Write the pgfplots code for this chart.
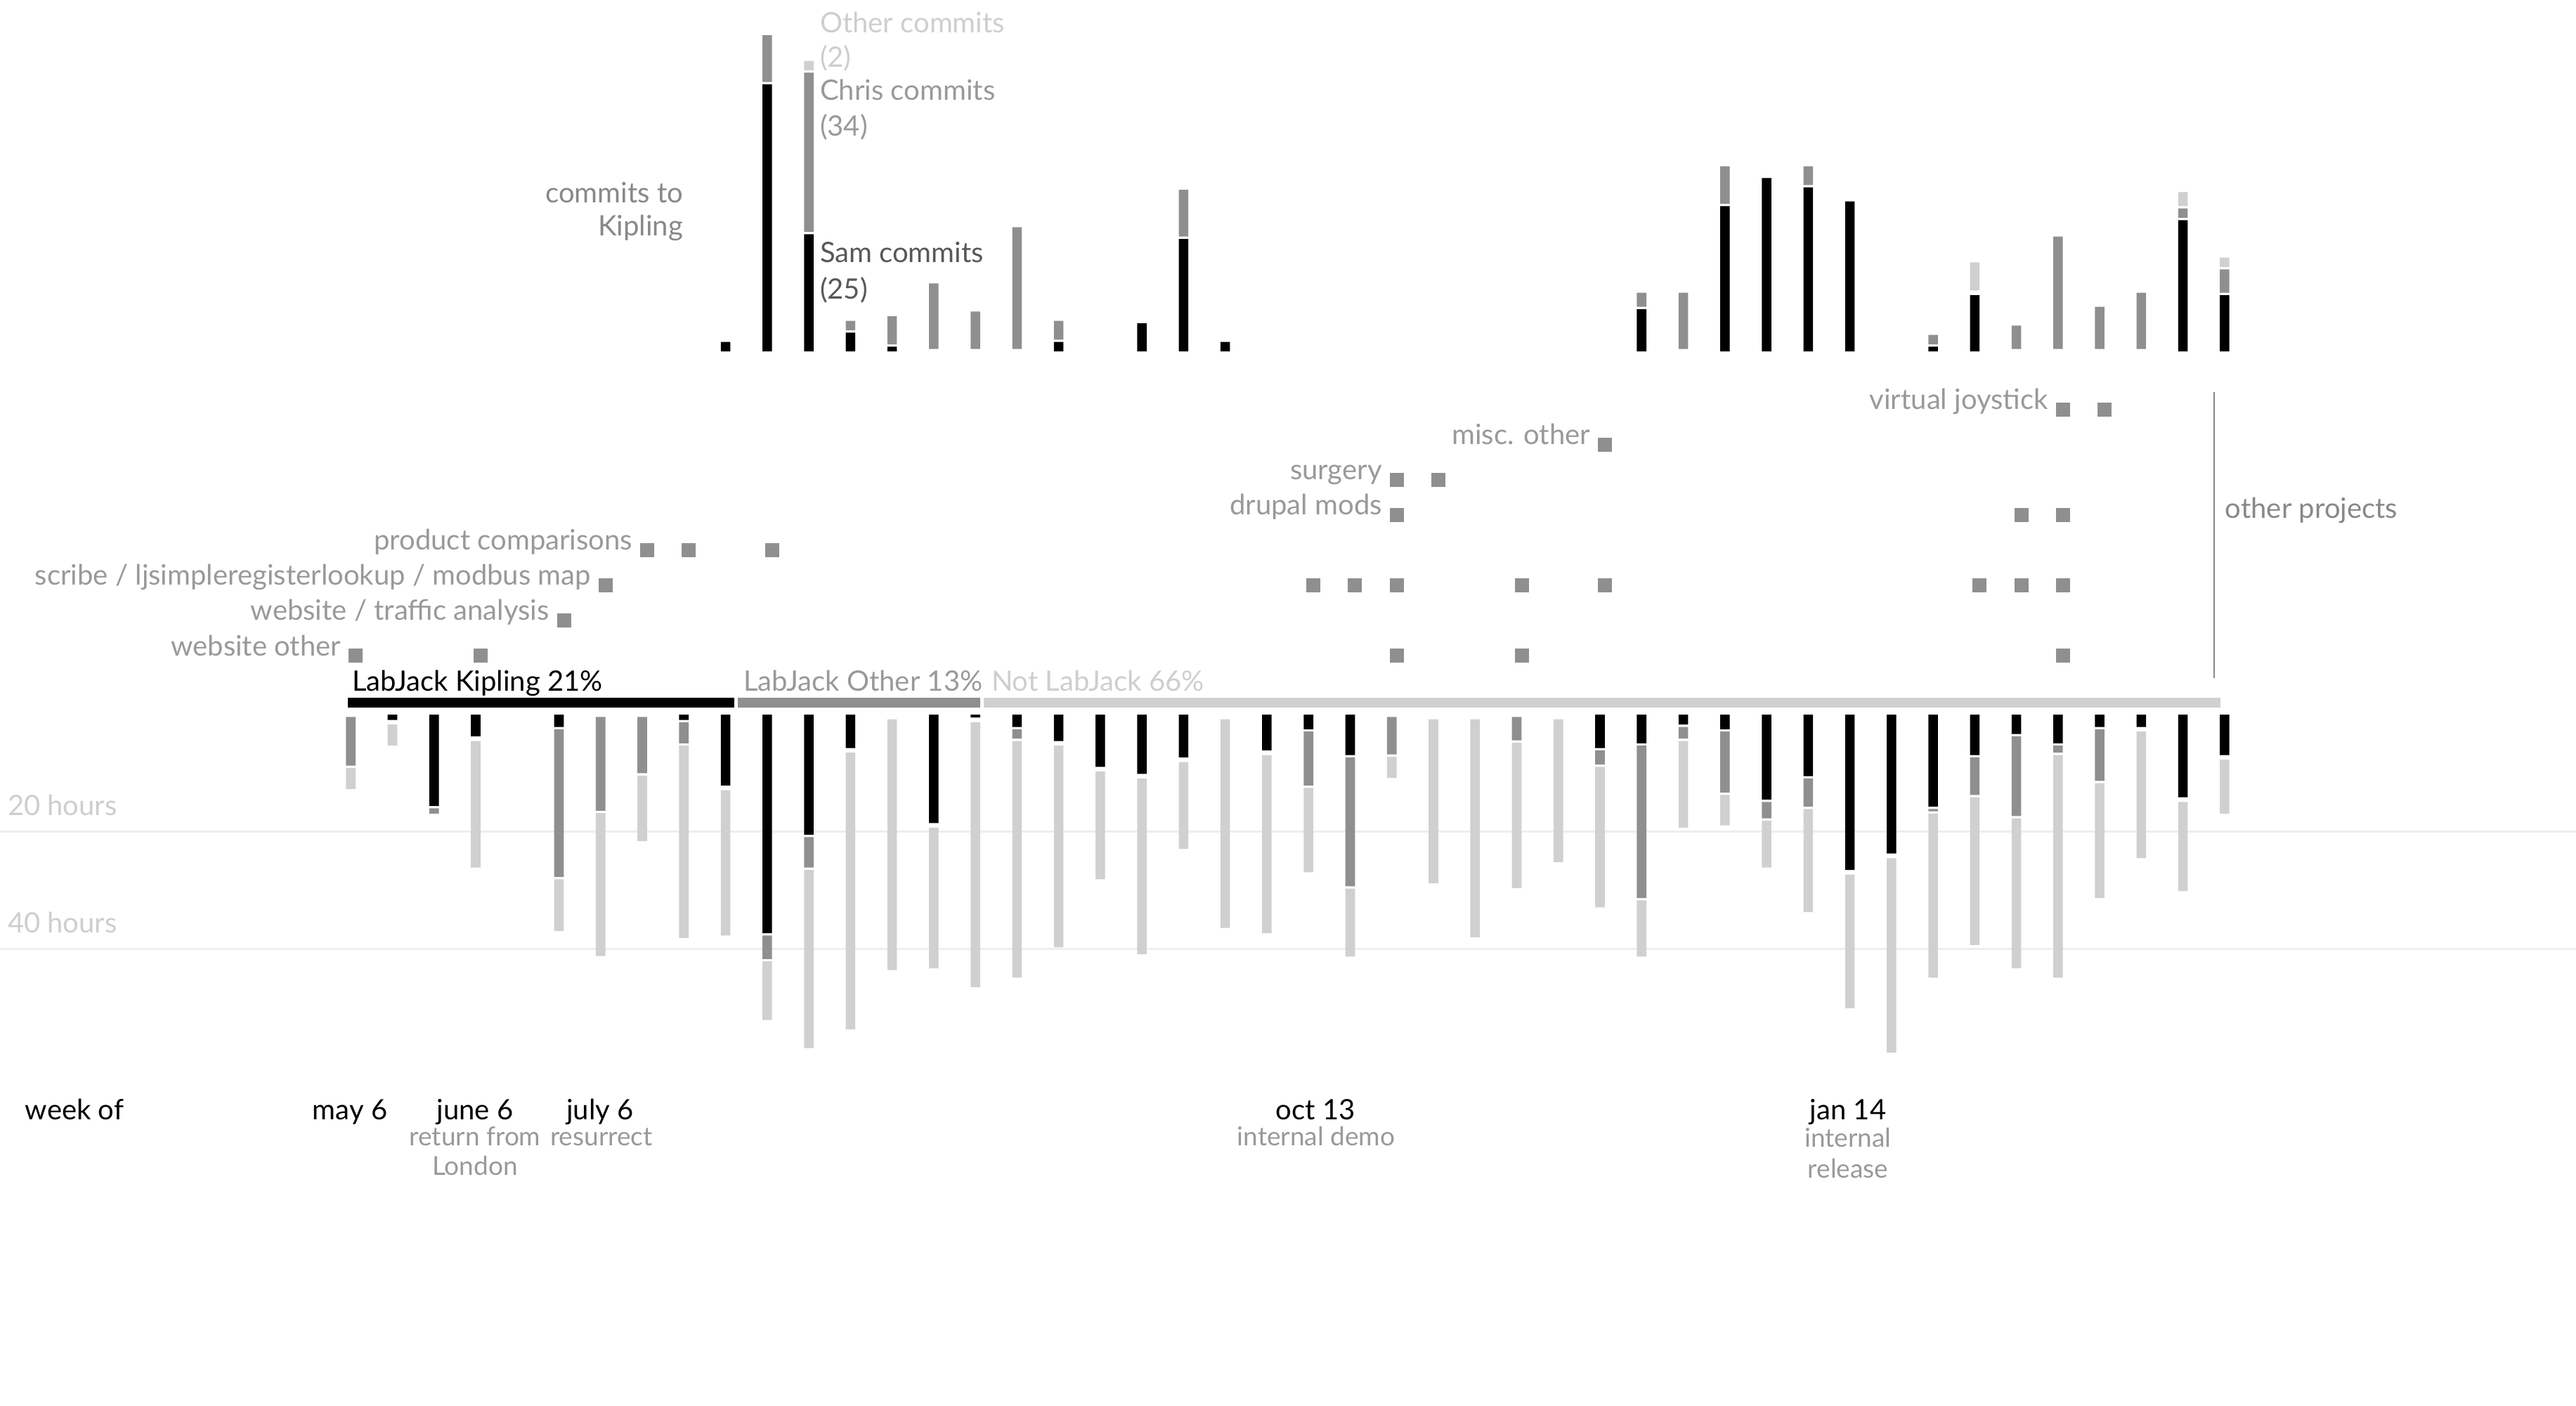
\documentclass[border=0pt]{standalone}
\usepackage{fontspec}
\setmainfont{Lato}
\usepackage{pgfplots}
\pgfplotsset{compat=1.18}
\usepackage{pgfplotstable}

\definecolor{cgray}{RGB}{143,143,143}
\definecolor{clight}{RGB}{208,208,208}
\definecolor{tdark}{RGB}{88,88,88}
\definecolor{tmid}{RGB}{153,153,153}
\definecolor{tlight}{RGB}{206,206,206}
\definecolor{tlab}{RGB}{136,136,136}
\definecolor{gridc}{RGB}{238,238,238}

% commits per week (Sam, gap, Chris, Other)
\pgfplotstableread{
w sam gap chris other
9 2 0.5 0 0
10 57 0.5 10 0
11 25 0.5 34 2
12 4 0.5 2 0
13 1 0.5 6 0
14 0 0.5 14 0
15 0 0.5 8 0
16 0 0.5 26 0
17 2 0.5 4 0
19 6 0.5 0 0
20 24 0.5 10 0
21 2 0.5 0 0
31 9 0.5 3 0
32 0 0.5 12 0
33 31 0.5 8 0
34 37 0.5 0 0
35 35 0.5 4 0
36 32 0.5 0 0
38 1 0.5 2 0
39 12 0.5 0 6
40 0 0.5 5 0
41 0 0.5 24 0
42 0 0.5 9 0
43 0 0.5 12 0
44 28 0.5 2 3
45 12 0.5 5 2
}\commits

% hours per week (Kipling, gap, LabJack other, Not LabJack), drawn downwards
\pgfplotstableread{
w k gap o n
0 0 -0.4 -8.3 -3.6
1 -0.9 -0.4 0 -3.6
2 -15.6 -0.4 -0.9 0
3 -3.7 -0.4 0 -21.6
4 0 -0.4 0 0
5 -2.1 -0.4 -25.2 -8.8
6 0 -0.4 -16 -24.4
7 0 -0.4 -9.6 -11.2
8 -0.9 -0.4 -3.6 -32.8
9 -12.1 -0.4 0 -24.8
10 -37.3 -0.4 -4 -10
11 -20.5 -0.4 -5.2 -30.4
12 -5.7 -0.4 0 -47.2
13 0 -0.4 0 -42.8
14 -18.5 -0.4 0 -24
15 -0.5 -0.4 0 -45.2
16 -2.1 -0.4 -1.6 -40.4
17 -4.5 -0.4 0 -34.4
18 -8.9 -0.4 0 -18.4
19 -10.1 -0.4 0 -30
20 -7.3 -0.4 0 -14.8
21 0 -0.4 0 -35.6
22 -6.1 -0.4 0 -30.4
23 -2.5 -0.4 -9.2 -14.4
24 -6.9 -0.4 -22 -11.6
25 0 -0.4 -6.4 -3.6
26 0 -0.4 0 -28
27 0 -0.4 0 -37.2
28 0 -0.4 -4 -24.8
29 0 -0.4 0 -24.4
30 -5.7 -0.4 -2.4 -24
31 -4.9 -0.4 -26 -9.6
32 -1.7 -0.4 -2 -14.8
33 -2.5 -0.4 -10.4 -5.2
34 -14.5 -0.4 -2.8 -8
35 -10.5 -0.4 -4.8 -17.6
36 -26.5 -0.4 0 -22.8
37 -23.7 -0.4 0 -33.2
38 -15.7 -0.4 -0.4 -28
39 -6.9 -0.4 -6.4 -25.2
40 -3.3 -0.4 -13.6 -25.6
41 -4.9 -0.4 -1.2 -38
42 -2.1 -0.4 -8.8 -19.6
43 -2.1 -0.4 0 -21.6
44 -14.1 -0.4 0 -15.2
45 -6.9 -0.4 0 -9.2
}\hours

\pgfplotsset{
  base/.style={scale only axis, width=733.2pt, xmin=-8.424, xmax=53.439,
    axis line style={draw=none}, xtick=\empty, ytick=\empty, clip=false,
    enlargelimits=false, anchor=south west},
}
\tikzset{t/.style={font=\fontsize{8pt}{9.6pt}\selectfont, inner sep=0pt},
         ts/.style={font=\fontsize{7.4pt}{8.9pt}\selectfont, inner sep=0pt}}

\begin{document}
\begin{tikzpicture}
\useasboundingbox (0pt,0pt) rectangle (733.2pt,400pt);

% ---------- commits ----------
\begin{axis}[base, at={(0pt,298pt)}, height=100pt,
  ymin=-1.5, ymax=73.5, ybar stacked, bar width=2.72pt]
\addplot[fill=black, draw=none] table[x=w,y=sam]{\commits};
\addplot[fill=none, draw=none] table[x=w,y=gap]{\commits};
\addplot[fill=cgray, draw=none] table[x=w,y=chris]{\commits};
\addplot[fill=none, draw=none] table[x=w,y=gap]{\commits};
\addplot[fill=clight, draw=none] table[x=w,y=other]{\commits};
\end{axis}

% ---------- other projects ----------
\begin{axis}[base, at={(0pt,208pt)}, height=84pt,
  ymin=0.46, ymax=8.86]
\addplot[only marks, color=cgray, mark=square*, mark size=1.8pt,
  mark options={xshift=1.4pt}] coordinates {
 (41,8) (42,8)
 (30,7)
 (25,6) (26,6)
 (25,5) (40,5) (41,5)
 (7,4) (8,4) (10,4)
 (6,3) (23,3) (24,3) (25,3) (28,3) (30,3) (39,3) (40,3) (41,3)
 (5,2)
 (0,1) (3,1) (25,1) (28,1) (41,1)
};
\addplot[tlab, line width=0.35pt] coordinates {(44.75,0.36) (44.75,8.5)};
\begin{scope}[every node/.style={t, text=tmid, anchor=base east, xshift=-2.6pt}]
\node at (axis cs:41,8) {virtual joystick};
\node at (axis cs:30,7) {misc. other};
\node at (axis cs:25,6) {surgery};
\node at (axis cs:25,5) {drupal mods};
\node at (axis cs:7,4) {product comparisons};
\node at (axis cs:6,3) {scribe / ljsimpleregisterlookup / modbus map};
\node at (axis cs:5,2) {website / traffic analysis};
\node at (axis cs:0,1) {website other};
\end{scope}
\node[t, text=tlab, anchor=base west] at (axis cs:45.0,4.9) {other projects};
\end{axis}

% ---------- category share bar ----------
\begin{axis}[scale only axis, at={(98.4pt,196pt)}, anchor=south west, width=534pt,
  height=8pt, xmin=0, xmax=100, ymin=-1, ymax=1, hide axis, clip=false,
  xbar stacked, bar width=3.8pt]
\addplot[fill=black, draw=white, line width=1pt] coordinates {(20.8,0)};
\addplot[fill=cgray, draw=white, line width=1pt] coordinates {(13.1,0)};
\addplot[fill=clight, draw=white, line width=1pt] coordinates {(66.1,0)};
\end{axis}

% ---------- hours: reference lines ----------
\begin{axis}[base, at={(0pt,88pt)}, height=116pt,
  ymin=-65.108, ymax=4.436]
\addplot[gridc, line width=0.55pt] coordinates {(-8.424,-20) (53.439,-20)};
\addplot[gridc, line width=0.55pt] coordinates {(-8.424,-40) (53.439,-40)};
\end{axis}

% ---------- hours ----------
\begin{axis}[base, at={(0pt,88pt)}, height=116pt,
  ymin=-65.108, ymax=4.436, ybar stacked, bar width=2.72pt]
\addplot[fill=black, draw=none] table[x=w,y=k]{\hours};
\addplot[fill=none, draw=none] table[x=w,y=gap]{\hours};
\addplot[fill=cgray, draw=none] table[x=w,y=o]{\hours};
\addplot[fill=none, draw=none] table[x=w,y=gap]{\hours};
\addplot[fill=clight, draw=none] table[x=w,y=n]{\hours};
\end{axis}

% ---------- texts ----------
\node[t, text=tlab, anchor=base east] at (194.6pt,342.4pt) {commits to};
\node[t, text=tlab, anchor=base east] at (194.6pt,333.0pt) {Kipling};
\node[t, text=tlight, anchor=base west] at (233.2pt,390.6pt) {Other commits};
\node[t, text=tlight, anchor=base west] at (233.2pt,380.8pt) {(2)};
\node[t, text=tmid, anchor=base west] at (233.2pt,371.4pt) {Chris commits};
\node[t, text=tmid, anchor=base west] at (233.2pt,361.2pt) {(34)};
\node[t, text=tdark, anchor=base west] at (233.2pt,325.4pt) {Sam commits};
\node[t, text=tdark, anchor=base west] at (233.2pt,315.0pt) {(25)};

\node[t, text=black, anchor=base west] at (100.0pt,203.4pt) {LabJack Kipling 21\%};
\node[t, text=tmid, anchor=base west] at (211.4pt,203.4pt) {LabJack Other 13\%};
\node[t, text=tlight, anchor=base west] at (282.0pt,203.4pt) {Not LabJack 66\%};

\node[t, text=tlight, anchor=base west] at (2.0pt,168.0pt) {20 hours};
\node[t, text=tlight, anchor=base west] at (2.0pt,134.6pt) {40 hours};

\node[t, text=black, anchor=base west] at (7.0pt,81.4pt) {week of};
\node[t, text=black, anchor=base] at (99.6pt,81.4pt) {may 6};
\node[t, text=black, anchor=base] at (135.2pt,81.4pt) {june 6};
\node[t, text=black, anchor=base] at (170.8pt,81.4pt) {july 6};
\node[t, text=black, anchor=base] at (374.4pt,81.4pt) {oct 13};
\node[t, text=black, anchor=base] at (526.0pt,81.4pt) {jan 14};
\node[ts, text=tmid, anchor=base] at (135.2pt,74.0pt) {return from};
\node[ts, text=tmid, anchor=base] at (135.2pt,65.6pt) {London};
\node[ts, text=tmid, anchor=base] at (171.2pt,74.0pt) {resurrect};
\node[ts, text=tmid, anchor=base] at (374.6pt,74.0pt) {internal demo};
\node[ts, text=tmid, anchor=base] at (526.0pt,73.6pt) {internal};
\node[ts, text=tmid, anchor=base] at (526.0pt,64.8pt) {release};
\end{tikzpicture}
\end{document}
